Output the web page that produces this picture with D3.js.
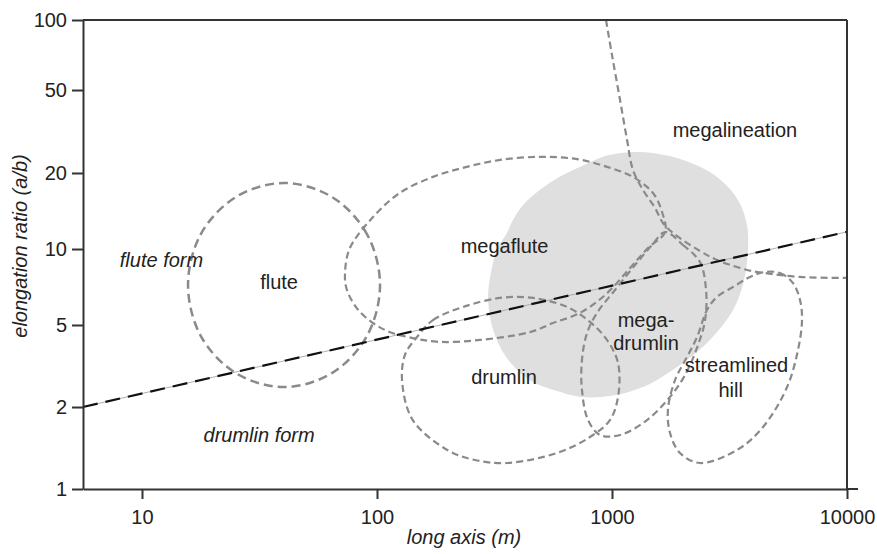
<!DOCTYPE html>
<html><head><meta charset="utf-8">
<script src="https://cdn.jsdelivr.net/npm/d3@7"></script>
<style>body{margin:0;background:#fff}</style>
</head><body><svg id="chart" width="877" height="554"></svg>
<script>
// ---------- data ----------
const xTicks = [10, 100, 1000, 10000];
const yTicks = [1, 2, 5, 10, 20, 50, 100];
const xMin = 5.61;

// outlines as [long axis (m), elongation ratio]
const shadedZone = [[1315,25.2],[2004,23.1],[2798,19.3],[3438,15.64],[3753,12.45],[3789,9.91],[3647,7.54],[3274,5.73],[2537,4.09],[1892,3.13],[1355,2.50],[980,2.26],[731,2.24],[583,2.39],[448,2.70],[357,3.46],[312,4.73],[297,6.28],[303,7.75],[324,9.91],[357,11.57],[379,13.03],[426,15.21],[550,18.43],[754,21.7],[960,24.3]];
const flute = [[103,7.20],[90.6,11.46],[64.3,16.07],[40.2,18.26],[25.1,16.07],[17.8,11.46],[15.7,7.20],[17.8,4.42],[25.1,2.92],[40.2,2.50],[64.3,2.92],[90.6,4.42]];
const megaflute = [[73.1,8.03],[76.7,10.09],[96.2,13.39],[125,16.67],[173,19.3],[241,21.4],[334,23.1],[494,23.9],[710,23.3],[952,21.4],[1228,19.3],[1494,16.67],[1633,14.01],[1683,11.68],[1422,10.09],[1194,8.41],[934,6.57],[731,5.58],[561,5.09],[448,4.62],[274,4.23],[185,4.14],[142,4.32],[108,4.73],[84.7,5.63],[74.5,6.88]];
const drumlin = [[148,4.37],[173,5.23],[232,5.89],[334,6.40],[461,6.40],[644,5.89],[806,5.14],[952,4.23],[1061,3.27],[1061,2.24],[980,1.791],[806,1.552],[583,1.356],[357,1.246],[261,1.278],[199,1.391],[142,1.791],[128,2.64],[131.5,3.58]];
const megaDrumlin = [[1683,11.68],[2004,10.37],[2368,8.88],[2513,6.88],[2489,5.23],[2323,4.00],[2046,2.86],[1766,2.24],[1409,1.791],[1082,1.579],[889,1.579],[791,1.791],[745,2.42],[745,3.38],[783,4.57],[863,5.58],[1030,6.88],[1253,8.64],[1480,10.37]];
const streamlinedHill = [[4478,8.11],[5188,8.03],[5893,7.33],[6310,6.28],[6436,5.23],[6185,3.78],[5559,2.50],[4393,1.689],[3406,1.391],[2368,1.246],[1946,1.356],[1766,1.605],[1730,1.95],[1854,2.70],[2086,3.50],[2301,4.37],[2537,5.73],[2798,6.46],[3274,7.07],[3866,7.75]];
const megalineationBoundary = [[943,100],[1000,70.7],[1082,44.8],[1159,28.8],[1228,20.7],[1355,17.13],[1524,14.54],[1648,12.68],[1820,11.57],[2368,9.82],[2798,9.05],[3753,8.26],[4478,8.03],[6310,7.75],[10000,7.68]];
const fluteDrumlinDivide = [[5.61,2],[10000,11.7]];

const labelText = ["megalineation","megaflute","flute","flute form","drumlin form","drumlin","mega-","drumlin","streamlined","hill"];
const labelX = [3334, 349, 38.3, 12.1, 31.5, 347, 1396, 1396, 3388, 3200];
const labelY = [29.8, 9.64, 6.94, 8.51, 1.492, 2.59, 4.89, 3.78, 2.97, 2.24];
const labelItalic = [false,false,false,true,true,false,false,false,false,false];

// ---------- layout ----------
const W = 877, H = 554;
const m = {left: 83, right: 30, top: 20, bottom: 65};
const pw = W - m.left - m.right, ph = H - m.top - m.bottom;
const font = "'Liberation Sans', Arial, Helvetica, sans-serif";
const fs = 20;

const x = d3.scaleLog().domain([xMin, 10000]).range([m.left, m.left + pw]);
const yFrac = [0, 0.1748, 0.3497, 0.5117, 0.6738, 0.8507, 1];
const y = d3.scaleLog().domain(yTicks).range(yFrac.map(f => m.top + ph * (1 - f)));

const svg = d3.select("#chart");
svg.append("rect").attr("width", W).attr("height", H).attr("fill", "#fff");

const closed = d3.line().x(d => x(d[0])).y(d => y(d[1])).curve(d3.curveCatmullRomClosed.alpha(0.5));
const open = d3.line().x(d => x(d[0])).y(d => y(d[1])).curve(d3.curveCatmullRom.alpha(0.5));

svg.append("path").attr("d", closed(shadedZone)).attr("fill", "#dfdfdf").attr("stroke", "none");

const dashColor = "#8a8a8a";
[megaflute, drumlin, megaDrumlin, streamlinedHill].forEach(s => {
  svg.append("path").attr("d", closed(s)).attr("fill", "none")
    .attr("stroke", dashColor).attr("stroke-width", 2.2).attr("stroke-dasharray", "7,4");
});
svg.append("path").attr("d", closed(flute)).attr("fill", "none")
  .attr("stroke", dashColor).attr("stroke-width", 2.5).attr("stroke-dasharray", "9,5");
svg.append("path").attr("d", open(megalineationBoundary)).attr("fill", "none")
  .attr("stroke", dashColor).attr("stroke-width", 2.2).attr("stroke-dasharray", "7,4");

// flute / drumlin dividing line
const straight = d3.line().x(d => x(d[0])).y(d => y(d[1]));
svg.append("path").attr("d", straight(fluteDrumlinDivide)).attr("fill", "none")
  .attr("stroke", "#9a9a9a").attr("stroke-width", 0.8);
svg.append("path").attr("d", straight(fluteDrumlinDivide)).attr("fill", "none")
  .attr("stroke", "#111").attr("stroke-width", 2.2).attr("stroke-dasharray", "15,8");

// axes
const axisColor = "#333";
const gx = svg.append("g").attr("transform", `translate(0,${m.top + ph})`)
  .call(d3.axisBottom(x).tickValues(xTicks).tickFormat(d3.format("d")).tickSize(10).tickSizeOuter(0).tickPadding(11));
const gy = svg.append("g").attr("transform", `translate(${m.left},0)`)
  .call(d3.axisLeft(y).tickValues(yTicks).tickFormat(d3.format("d")).tickSize(11).tickSizeOuter(0).tickPadding(5));
[gx, gy].forEach(g => {
  g.selectAll("path.domain").attr("stroke", axisColor).attr("stroke-width", 2);
  g.selectAll(".tick line").attr("stroke", axisColor).attr("stroke-width", 2);
  g.selectAll(".tick text").attr("fill", "#222").style("font-family", font).style("font-size", fs + "px");
});
// frame
svg.append("line").attr("x1", m.left).attr("x2", m.left + pw).attr("y1", m.top).attr("y2", m.top)
  .attr("stroke", axisColor).attr("stroke-width", 2);
svg.append("line").attr("x1", m.left + pw).attr("x2", m.left + pw).attr("y1", m.top).attr("y2", m.top + ph)
  .attr("stroke", axisColor).attr("stroke-width", 2);
svg.append("line").attr("x1", m.left + pw).attr("x2", m.left + pw + 11).attr("y1", m.top + ph).attr("y2", m.top + ph)
  .attr("stroke", axisColor).attr("stroke-width", 2);

// axis titles
svg.append("text").attr("x", m.left + pw / 2 - 1).attr("y", 544).attr("text-anchor", "middle")
  .style("font-family", font).style("font-size", fs + "px").style("font-style", "italic").attr("fill", "#222")
  .text("long axis (m)");
svg.append("text").attr("transform", "translate(27,246) rotate(-90)").attr("text-anchor", "middle")
  .style("font-family", font).style("font-size", fs + "px").style("font-style", "italic").attr("fill", "#222")
  .text("elongation ratio (a/b)");

// labels
labelText.forEach((t, i) => {
  svg.append("text").attr("x", x(labelX[i])).attr("y", y(labelY[i])).attr("text-anchor", "middle")
    .style("font-family", font).style("font-size", fs + "px")
    .style("font-style", labelItalic[i] ? "italic" : "normal").attr("fill", "#222").text(t);
});
</script></body></html>
